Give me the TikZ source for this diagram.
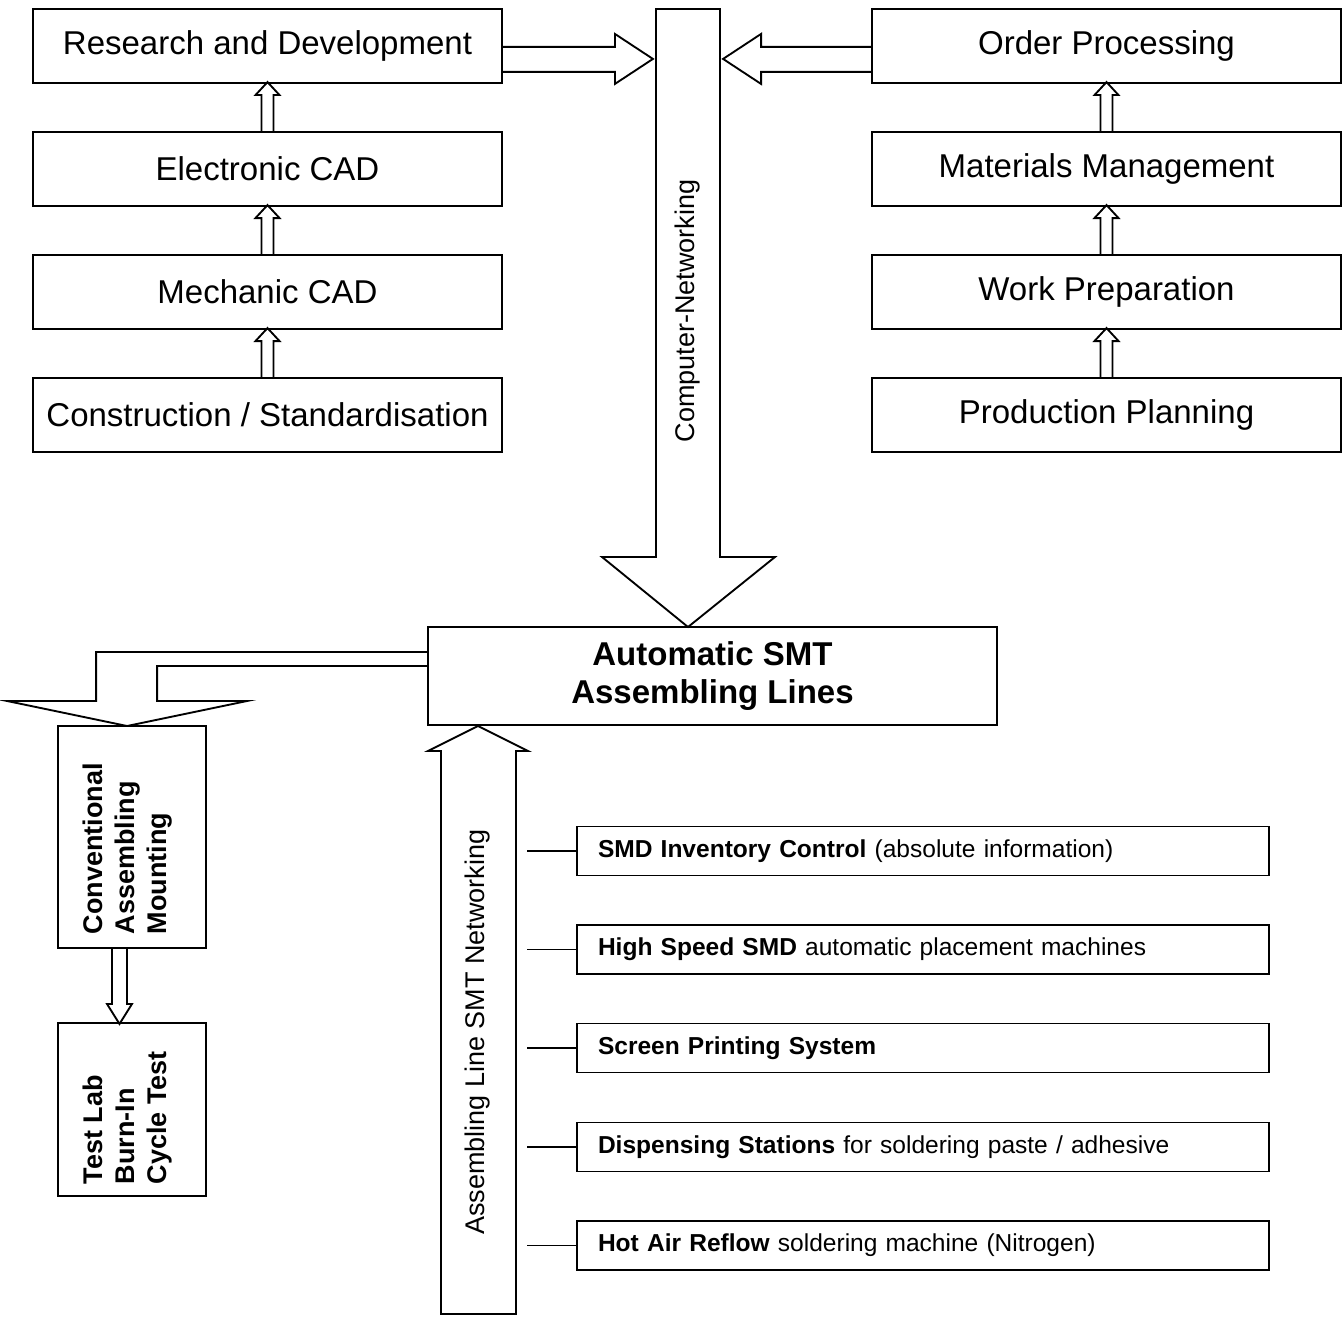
\documentclass[tikz,border=0pt]{standalone}
\usepackage{fontspec}
\setmainfont{Liberation Sans}
\begin{document}
\begin{tikzpicture}[x=0.75pt,y=-0.75pt, line width=1.4pt, line join=miter,
  mainbox/.style={draw, rectangle, inner sep=0pt, minimum width=351.75pt, minimum height=55.5pt,
    font=\fontsize{24.75}{29}\selectfont},
  rotlabel/.style={rotate=90, inner sep=0pt, font=\fontsize{20.25}{24}\selectfont},
  boldrot/.style={rotate=90, anchor=west, inner sep=0pt, align=left,
    font=\bfseries\fontsize{20.25}{24}\selectfont},
  sidebox/.style={draw, rectangle, minimum width=111pt, inner sep=0pt},
  itembox/.style={draw, rectangle, minimum height=36.75pt, text width=487.5pt, inner xsep=15.75pt,
    inner ysep=0pt, align=left, font=\fontsize{18.4}{22}\selectfont}]
\useasboundingbox (0,0) rectangle (1343,1320);

% left column
\node[mainbox] (rd)   at (267.5,46)  {Research and Development};
\node[mainbox] (ecad) at (267.5,169) {Electronic CAD};
\node[mainbox] (mcad) at (267.5,292) {Mechanic CAD};
\node[mainbox] (cons) at (267.5,415) {Construction / Standardisation};
% right column
\node[mainbox] (op)   at (1106.5,46)  {Order Processing};
\node[mainbox] (mm)   at (1106.5,169) {Materials Management};
\node[mainbox] (wp)   at (1106.5,292) {Work Preparation};
\node[mainbox] (pp)   at (1106.5,415) {Production Planning};

% small hollow up arrows
\foreach \a in {ecad,mcad,cons,mm,wp,pp}{
  \draw[shift={(\a.north)}] (-6,0) -- (-6,-36) -- (-12,-36) -- (0,-49) -- (12,-36) -- (6,-36) -- (6,0);
}

% computer networking column
\draw (656,9) -- (720,9) -- (720,557) -- (775,557) -- (688,627) -- (602,557) -- (656,557) -- cycle;
\node[rotlabel] (netlbl) at (688,311) {Computer-Networking};

% arrows into the column
\draw[shift={(rd.south east)}] (0,-37) -- (112,-37) -- (112,-50) -- (150,-25) -- (112,0) -- (112,-12) -- (0,-12);
\draw[shift={(op.south west)}] (0,-37) -- (-110,-37) -- (-110,-50) -- (-148,-25) -- (-110,0) -- (-110,-12) -- (0,-12);

% SMT box
\node[draw, rectangle, inner sep=0pt, minimum width=426.75pt, minimum height=73.5pt,
  font=\bfseries\fontsize{24.75}{28.5}\selectfont, align=center] (smt) at (712.5,676)
  {Automatic SMT\\Assembling Lines};

% L-shaped arrow to conventional assembling
\draw[shift={(smt.west)}] (0,-24) -- (-331,-24) -- (-331,25) -- (-420,25) -- (-300,50)
  -- (-180,25) -- (-270,25) -- (-270,-10) -- (0,-10);

% conventional and test lab boxes
\node[sidebox, minimum height=166.5pt] (conv) at (132,837) {};
\node[boldrot] (convtxt) at (127.5,935) {Conventional\\Assembling\\Mounting};
\node[sidebox, minimum height=129.75pt] (test) at (132,1109.5) {};
\node[boldrot] (testtxt) at (127.5,1185) {Test Lab\\Burn-In\\Cycle Test};
\draw[shift={(conv.south)}] (-20,0) -- (-20,55) -- (-25,55) -- (-12.5,75) -- (0,55) -- (-5,55) -- (-5,0);

% assembling line networking arrow
\draw (441,1314) -- (441,751) -- (428,751) -- (478,726) -- (528,751) -- (516,751) -- (516,1314) -- cycle;
\node[rotlabel] (asmlbl) at (478,1032) {Assembling Line SMT Networking};

% item boxes
\node[itembox] (i1) at (923,851)    {\textbf{SMD Inventory Control} (absolute information)};
\node[itembox] (i2) at (923,949.5)  {\textbf{High Speed SMD} automatic placement machines};
\node[itembox] (i3) at (923,1048)   {\textbf{Screen Printing System}};
\node[itembox] (i4) at (923,1147)   {\textbf{Dispensing Stations} for soldering paste / adhesive};
\node[itembox] (i5) at (923,1245.5) {\textbf{Hot Air Reflow} soldering machine (Nitrogen)};
\coordinate (c1) at (527,851);
\coordinate (c2) at (527,949.5);
\coordinate (c3) at (527,1048);
\coordinate (c4) at (527,1147);
\coordinate (c5) at (527,1245.5);
\foreach \k in {1,...,5}{ \draw (c\k) -- (i\k.west); }
\end{tikzpicture}
\end{document}
